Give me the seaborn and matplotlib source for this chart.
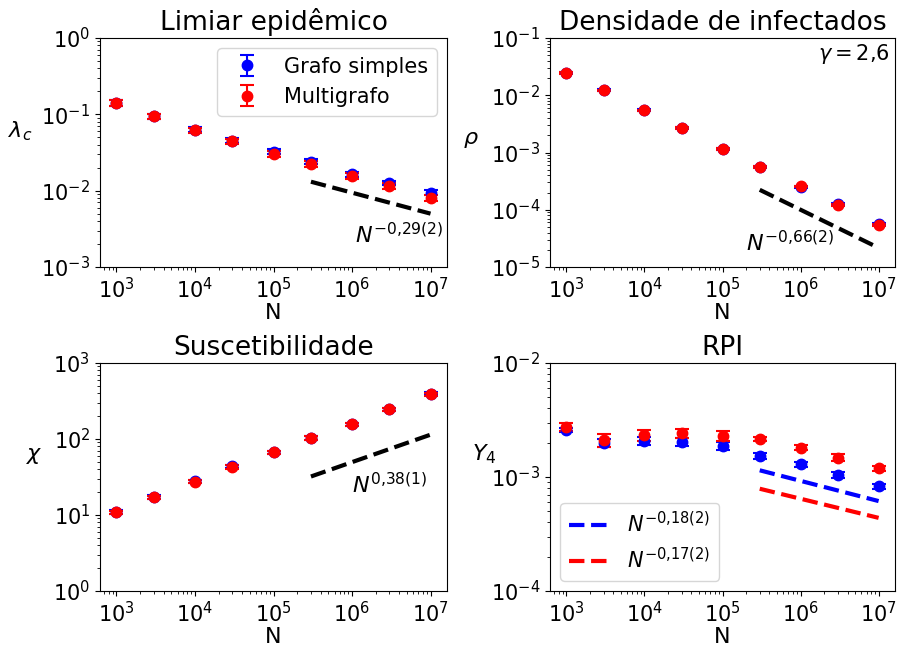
import matplotlib
matplotlib.use("Agg")
import matplotlib.pyplot as plt
from matplotlib.lines import Line2D
import seaborn as sns

# ---------------- data ----------------
N = [1e3, 3e3, 1e4, 3e4, 1e5, 3e5, 1e6, 3e6, 1e7]

lam_simple = [0.142, 0.094, 0.063, 0.045, 0.0323, 0.0239, 0.0165, 0.0126, 0.0094]
lam_simple_err = [0.013, 0.008, 0.005, 0.0035, 0.0025, 0.0018, 0.0012, 0.0009, 0.0007]
lam_multi = [0.142, 0.094, 0.062, 0.0445, 0.0303, 0.0223, 0.0155, 0.0115, 0.0081]
lam_multi_err = [0.013, 0.008, 0.005, 0.0035, 0.0027, 0.0019, 0.0013, 0.001, 0.0008]

rho_simple = [0.0249, 0.0123, 0.00548, 0.00272, 0.00116, 0.000568, 0.000252, 0.000125, 5.56e-5]
rho_simple_err = [0.0009, 0.0004, 0.00018, 9e-5, 4e-5, 2e-5, 1e-5, 5e-6, 2.5e-6]
rho_multi = [0.0248, 0.0122, 0.00545, 0.0027, 0.00115, 0.000565, 0.000255, 0.000123, 5.5e-5]
rho_multi_err = [0.0009, 0.0004, 0.00018, 9e-5, 4e-5, 2e-5, 1e-5, 5e-6, 2.5e-6]

chi_simple = [10.9, 17.2, 27.6, 43.5, 67.0, 103.0, 156.0, 247.0, 393.0]
chi_simple_err = [0.6, 0.9, 1.4, 2.5, 3.5, 5.0, 7.0, 11.0, 18.0]
chi_multi = [10.8, 17.1, 27.5, 43.3, 66.8, 103.0, 156.0, 246.0, 390.0]
chi_multi_err = [0.6, 0.9, 1.4, 2.5, 3.5, 5.0, 7.0, 11.0, 18.0]

y4_simple = [0.00259, 0.00199, 0.00207, 0.00202, 0.00186, 0.00153, 0.00129, 0.00104, 0.00083]
y4_simple_err = [0.00012, 0.00016, 0.00017, 0.00016, 0.00015, 0.0001, 0.00006, 0.00006, 0.00004]
y4_multi = [0.00275, 0.0021, 0.00233, 0.00241, 0.0023, 0.00215, 0.00181, 0.00148, 0.00119]
y4_multi_err = [0.0002, 0.00026, 0.00028, 0.00022, 0.00025, 0.0001, 0.0001, 0.00011, 0.00006]

fit_x = [3e5, 1e7]
lam_fit = [0.0131, 0.0050]
rho_fit = [2.23e-4, 2.16e-5]
chi_fit = [32.1, 114.0]
y4_fit_simple = [0.001145, 0.000615]
y4_fit_multi = [0.000789, 0.000438]

titles = ["Limiar epidêmico", "Densidade de infectados", "Suscetibilidade", "RPI"]
ylabels = [r"$\lambda_c$", r"$\rho$", r"$\chi$", r"$Y_4$"]
fit_labels = [r"$N^{-0{,}29(2)}$", r"$N^{-0{,}66(2)}$", r"$N^{0{,}38(1)}$",
              r"$N^{-0{,}18(2)}$", r"$N^{-0{,}17(2)}$"]
series_names = ["Grafo simples", "Multigrafo"]

# ---------------- style ----------------
plt.rcParams.update({
    "font.family": ["DejaVu Sans"],
    "xtick.labelsize": 15,
    "ytick.labelsize": 15,
    "mathtext.fontset": "dejavusans",
})

W, H = 897, 647
fig = plt.figure(figsize=(W / 100, H / 100), dpi=100)

def box(l, t, r, b):
    return [l / W, 1 - b / H, (r - l) / W, (b - t) / H]

axs = [fig.add_axes(box(100, 38, 447, 267)),
       fig.add_axes(box(550, 38, 895, 267)),
       fig.add_axes(box(100, 363, 447, 591)),
       fig.add_axes(box(550, 363, 895, 591))]

data = [(lam_simple, lam_simple_err, lam_multi, lam_multi_err),
        (rho_simple, rho_simple_err, rho_multi, rho_multi_err),
        (chi_simple, chi_simple_err, chi_multi, chi_multi_err),
        (y4_simple, y4_simple_err, y4_multi, y4_multi_err)]
ylims = [(1e-3, 1), (1e-5, 1e-1), (1, 1e3), (1e-4, 1e-2)]
label_coords = [(-0.23, 0.54), (-0.23, 0.51), (-0.19, 0.55), (-0.19, 0.55)]
fits = [[(lam_fit, "black")], [(rho_fit, "black")], [(chi_fit, "black")],
        [(y4_fit_simple, "blue"), (y4_fit_multi, "red")]]

handles = []
for i, ax in enumerate(axs):
    s, se, m, me = data[i]
    h1 = ax.errorbar(N, s, yerr=se, fmt="o", color="blue", ms=7.5, capsize=5,
                     elinewidth=1.5, capthick=1.5)
    h2 = ax.errorbar(N, m, yerr=me, fmt="o", color="red", ms=7.5, capsize=5,
                     elinewidth=1.5, capthick=1.5)
    if i == 0:
        handles = [h1, h2]
    for fy, col in fits[i]:
        sns.lineplot(x=fit_x, y=fy, ax=ax, color=col, linestyle="--", lw=3,
                     legend=False)
    ax.set_xscale("log")
    ax.set_yscale("log")
    ax.set_xlim(10 ** 2.79, 10 ** 7.21)
    ax.set_ylim(*ylims[i])
    ax.set_title(titles[i], fontsize=19)
    ax.set_xlabel("N", fontsize=16, labelpad=1)
    ax.set_ylabel(ylabels[i], fontsize=16, rotation=0)
    ax.yaxis.set_label_coords(*label_coords[i])

# annotations
axs[0].text(1.1e6, 10 ** -2.58, fit_labels[0], fontsize=16, va="center")
axs[1].text(2.0e5, 10 ** -4.58, fit_labels[1], fontsize=16, va="center")
axs[2].text(1.0e6, 10 ** 1.40, fit_labels[2], fontsize=16, va="center")
axs[1].text(0.985, 0.93, r"$\gamma = 2{,}6$", transform=axs[1].transAxes,
            ha="right", va="center", fontsize=15)

axs[0].legend(handles=handles, labels=series_names, loc="upper right", fontsize=15)
rpi_handles = [Line2D([], [], color="blue", ls="--", lw=3),
               Line2D([], [], color="red", ls="--", lw=3)]
axs[3].legend(handles=rpi_handles, labels=fit_labels[3:], loc="lower left",
              fontsize=15)

fig.savefig("out.png", dpi=100)
